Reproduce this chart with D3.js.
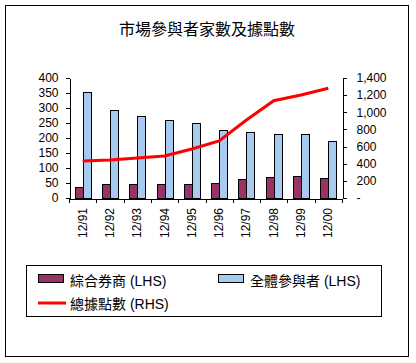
<!DOCTYPE html>
<html lang="zh-Hant">
<head>
<meta charset="UTF-8">
<title>市場參與者家數及據點數</title>
<script src="https://d3js.org/d3.v7.min.js"></script>
<style>
  body { margin: 0; background: #fff; }
  svg text { font-family: "Liberation Sans", Arial, "Noto Sans CJK TC", sans-serif; fill: #000; }
  .axis path, .axis line { stroke: #000; shape-rendering: crispEdges; }
  .bar { stroke: #000; stroke-width: 1; shape-rendering: crispEdges; }
</style>
</head>
<body>
<div id="chart"></div>
<script>
// data
const categories = ["12/91", "12/92", "12/93", "12/94", "12/95", "12/96", "12/97", "12/98", "12/99", "12/00"];
const brokers = [36, 46, 46, 46, 46, 49, 62, 69, 72, 66];           // 綜合券商 (LHS)
const participants = [352, 292, 272, 259, 249, 226, 219, 212, 212, 190]; // 全體參與者 (LHS)
const branches = [432, 443, 467, 490, 572, 665, 910, 1135, 1202, 1280]; // 總據點數 (RHS)
const leftTicks = [0, 50, 100, 150, 200, 250, 300, 350, 400];
const rightTicks = [0, 200, 400, 600, 800, 1000, 1200, 1400];

const W = 416, H = 363;
const plot = { left: 69, right: 342, top: 78, bottom: 198 };

const svg = d3.select("#chart").append("svg")
    .attr("width", W).attr("height", H);

// outer frame
svg.append("rect")
    .attr("x", 5.5).attr("y", 5.5)
    .attr("width", 403).attr("height", 351)
    .attr("fill", "#fff").attr("stroke", "#000");

svg.append("text")
    .attr("x", 207).attr("y", 35)
    .attr("text-anchor", "middle")
    .style("font-family", "'Noto Sans CJK TC', sans-serif")
    .style("font-size", "16px")
    .text("市場參與者家數及據點數");

const x = d3.scaleBand().domain(categories).range([plot.left, plot.right]);
const xIdx = d3.scaleLinear().domain([0, categories.length]).range([plot.left, plot.right]);
const yL = d3.scaleLinear().domain([0, 400]).range([plot.bottom, plot.top]);
const yR = d3.scaleLinear().domain([0, 1400]).range([plot.bottom, plot.top]);

const groupW = 16;
const sub = d3.scaleBand().domain(["b", "p"]).range([0, groupW]);
const off = (x.bandwidth() - groupW) / 2;

const rows = categories.map((c, i) => ({ c, b: brokers[i], p: participants[i], r: branches[i] }));

// bars
const g = svg.append("g");
g.selectAll(".bar-b").data(rows).join("rect")
    .attr("class", "bar")
    .attr("x", d => Math.round(x(d.c) + off + sub("b")) + 0.5)
    .attr("y", d => Math.round(yL(d.b)) + 0.5)
    .attr("width", sub.bandwidth())
    .attr("height", d => Math.round(yL(0)) - Math.round(yL(d.b)))
    .attr("fill", "#993366");
g.selectAll(".bar-p").data(rows).join("rect")
    .attr("class", "bar")
    .attr("x", d => Math.round(x(d.c) + off + sub("p")) + 0.5)
    .attr("y", d => Math.round(yL(d.p)) + 0.5)
    .attr("width", sub.bandwidth())
    .attr("height", d => Math.round(yL(0)) - Math.round(yL(d.p)))
    .attr("fill", "#A6CAF0");

// left axis
svg.append("g").attr("class", "axis")
    .attr("transform", `translate(${plot.left + 0.5},0)`)
    .call(d3.axisLeft(yL).tickValues(leftTicks).tickSize(4).tickSizeOuter(0).tickPadding(7))
    .call(a => a.selectAll("text").style("font-size", "12px"));

// right axis
svg.append("g").attr("class", "axis")
    .attr("transform", `translate(${plot.right + 0.5},0)`)
    .call(d3.axisRight(yR).tickValues(rightTicks).tickSize(4).tickSizeOuter(0).tickPadding(10)
        .tickFormat(d => d === 0 ? "-" : d3.format(",")(d)))
    .call(a => a.selectAll("text").style("font-size", "12px"));

// bottom axis: boundary ticks
svg.append("g").attr("class", "axis")
    .attr("transform", `translate(0,${plot.bottom + 0.5})`)
    .call(d3.axisBottom(xIdx).tickValues(d3.range(categories.length + 1)).tickSize(4).tickSizeOuter(0).tickFormat(""));

// bottom labels, rotated
svg.append("g")
    .attr("transform", `translate(0,${plot.bottom})`)
    .selectAll("text").data(categories).join("text")
    .attr("transform", d => `translate(${x(d) + x.bandwidth() / 2 + 4},10) rotate(-90)`)
    .attr("text-anchor", "end")
    .style("font-size", "12px")
    .text(d => d);

// line
const line = d3.line()
    .x(d => x(d.c) + x.bandwidth() / 2)
    .y(d => yR(d.r));
svg.append("path").datum(rows)
    .attr("d", line)
    .attr("fill", "none")
    .attr("stroke", "#FF0000")
    .attr("stroke-width", 3);

// legend
const lg = svg.append("g");
lg.append("rect")
    .attr("x", 26.5).attr("y", 265.5).attr("width", 355).attr("height", 51)
    .attr("fill", "#fff").attr("stroke", "#000");
const legendItems = [
  { label: "綜合券商 (LHS)", type: "box", color: "#993366", x: 38, y: 274 },
  { label: "全體參與者 (LHS)", type: "box", color: "#A6CAF0", x: 218, y: 274 },
  { label: "總據點數 (RHS)", type: "line", color: "#FF0000", x: 38, y: 297 }
];
legendItems.forEach(it => {
  if (it.type === "box") {
    lg.append("rect").attr("class", "bar")
      .attr("x", it.x + 0.5).attr("y", it.y + 0.5)
      .attr("width", 25).attr("height", 8)
      .attr("fill", it.color);
  } else {
    lg.append("line")
      .attr("x1", it.x).attr("x2", it.x + 28)
      .attr("y1", it.y + 6).attr("y2", it.y + 6)
      .attr("stroke", it.color).attr("stroke-width", 3);
  }
  lg.append("text")
    .attr("x", it.x + 32).attr("y", it.y + 12)
    .style("font-size", "14px")
    .text(it.label);
});
</script>
</body>
</html>
